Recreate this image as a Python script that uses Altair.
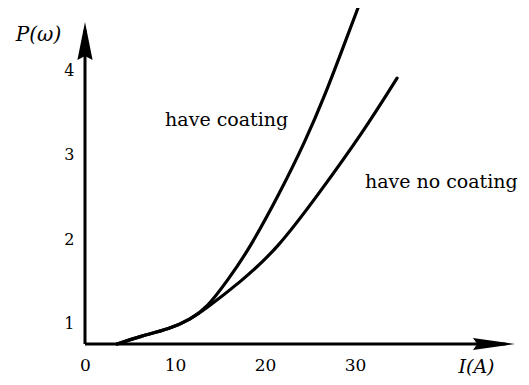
import altair as alt
import pandas as pd

# ---- values ----
shared_I = [3.56, 6.11, 9.44, 11.67, 13.56]
shared_P = [0.76, 0.85, 0.94, 1.05, 1.19]
coat_I = [15.89, 18.22, 21.56, 24.56, 26.67, 28.56, 30.33]
coat_P = [1.52, 1.88, 2.53, 3.18, 3.71, 4.24, 4.74]
nocoat_I = [17.22, 21.33, 26.11, 30.89, 34.67]
nocoat_P = [1.49, 1.88, 2.56, 3.27, 3.91]

x_ticks = [0, 10, 20, 30]
y_ticks = [1, 2, 3, 4]
x_domain = [0, 48.33]
y_domain = [0.76, 4.74]

series_names = ["have coating", "have no coating"]
label_I = [8.9, 31.1]
label_P = [3.41, 2.68]

# axis extents (data units) and arrowhead centres
x_axis_end = 46.7
y_axis_end = 4.48
x_arrow = [45.44, 0.76]
y_arrow = [0.0, 4.35]

rows = []
for i, p in zip(shared_I + coat_I, shared_P + coat_P):
    rows.append({"I": i, "P": p, "s": series_names[0]})
for i, p in zip(shared_I + nocoat_I, shared_P + nocoat_P):
    rows.append({"I": i, "P": p, "s": series_names[1]})
curves = pd.DataFrame(rows)

labels = pd.DataFrame({"I": label_I, "P": label_P, "t": series_names})

xs = alt.Scale(domain=x_domain, nice=False, zero=False)
ys = alt.Scale(domain=y_domain, nice=False, zero=False)

x_axis = alt.Axis(values=x_ticks, format="d", domain=False, ticks=False, tickSize=0, grid=False,
                  labelFont="DejaVu Serif", labelFontSize=17, labelPadding=13,
                  labelColor="black", labelFlush=False, labelOverlap=False,
                  title="I(A)", titleFont="DejaVu Serif", titleFontStyle="italic",
                  titleFontWeight="normal", titleFontSize=19, titleColor="black",
                  titleX=391, titleY=22, titleAlign="center", titleBaseline="middle",
                  titleAngle=0)
y_axis = alt.Axis(values=y_ticks, format="d", domain=False, ticks=False, tickSize=0, grid=False,
                  labelFont="DejaVu Serif", labelFontSize=16, labelPadding=11,
                  labelColor="black", labelFlush=False, labelOverlap=False,
                  title="P(ω)", titleFont="DejaVu Serif", titleFontStyle="italic",
                  titleFontWeight="normal", titleFontSize=20, titleColor="black",
                  titleX=-47, titleY=26, titleAlign="center", titleBaseline="middle",
                  titleAngle=0)

lines = alt.Chart(curves).mark_line(color="black", strokeWidth=3.2, interpolate="basis",
                                    strokeCap="round").encode(
    x=alt.X("I:Q", scale=xs, axis=x_axis),
    y=alt.Y("P:Q", scale=ys, axis=y_axis),
    detail="s:N",
)

yrule = alt.Chart(pd.DataFrame({"I": [0], "P": [y_domain[0]], "P2": [y_axis_end]})).mark_rule(
    color="black", strokeWidth=3).encode(
    x=alt.X("I:Q", scale=xs), y=alt.Y("P:Q", scale=ys), y2="P2:Q")

xrule = alt.Chart(pd.DataFrame({"I": [0], "I2": [x_axis_end], "P": [y_domain[0]]})).mark_rule(
    color="black", strokeWidth=3).encode(
    x=alt.X("I:Q", scale=xs), x2="I2:Q", y=alt.Y("P:Q", scale=ys))

yhead = alt.Chart(pd.DataFrame({"I": [y_arrow[0]], "P": [y_arrow[1]]})).mark_point(
    shape="M0,-1 L0.4,1 L0,0.8 L-0.4,1 Z", filled=True, color="black", opacity=1,
    size=1444, strokeWidth=0).encode(
    x=alt.X("I:Q", scale=xs), y=alt.Y("P:Q", scale=ys))

xhead = alt.Chart(pd.DataFrame({"I": [x_arrow[0]], "P": [x_arrow[1]]})).mark_point(
    shape="M1,0 L-1,0.29 L-0.8,0 L-1,-0.29 Z", filled=True, color="black", opacity=1,
    size=1764, strokeWidth=0).encode(
    x=alt.X("I:Q", scale=xs), y=alt.Y("P:Q", scale=ys))

text = alt.Chart(labels).mark_text(align="left", baseline="middle", font="DejaVu Serif",
                                   fontSize=19, color="black").encode(
    x=alt.X("I:Q", scale=xs), y=alt.Y("P:Q", scale=ys), text="t:N")

chart = alt.layer(lines, yrule, xrule, yhead, xhead, text).properties(
    width=435, height=336,
    autosize=alt.AutoSizeParams(type="none"),
    padding={"left": 77, "top": 0, "right": 0, "bottom": 33},
    background="white",
).configure_view(strokeWidth=0)

chart.save("out.html", embed_options={"renderer": "svg", "actions": False})
